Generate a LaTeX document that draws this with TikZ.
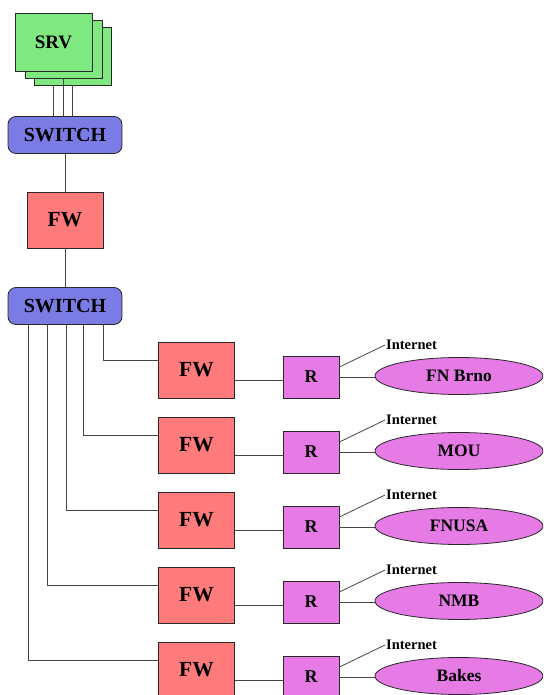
\documentclass[tikz,border=0pt]{standalone}
\usepackage{fontspec}
\setmainfont{Liberation Serif}
\usetikzlibrary{shapes.geometric}
\definecolor{srvgreen}{RGB}{128,232,128}
\definecolor{swblue}{RGB}{123,123,230}
\definecolor{fwred}{RGB}{255,123,123}
\definecolor{rviolet}{RGB}{230,123,230}
\definecolor{edge}{RGB}{40,40,40}
\definecolor{wirec}{RGB}{70,70,70}
\begin{document}
\begin{tikzpicture}[x=1pt,y=-1pt,
  box/.style={draw=edge, line width=0.8pt, inner sep=0pt},
  srvbox/.style={box, fill=srvgreen, minimum width=77pt, minimum height=58pt, font=\bfseries\fontsize{19}{20}\selectfont},
  switchbox/.style={box, fill=swblue, rounded corners=8pt, minimum width=114pt, minimum height=37pt, font=\bfseries\fontsize{20}{22}\selectfont},
  fwbox/.style={box, fill=fwred, minimum width=76pt, minimum height=56pt, font=\bfseries\fontsize{21.5}{24}\selectfont},
  rbox/.style={box, fill=rviolet, minimum width=56pt, minimum height=42pt, font=\bfseries\fontsize{18}{20}\selectfont},
  site/.style={box, ellipse, fill=rviolet, minimum width=168pt, minimum height=37pt, font=\bfseries\fontsize{17.5}{19}\selectfont},
  wire/.style={draw=wirec, line width=0.8pt},
  netlabel/.style={inner sep=1pt, anchor=west, font=\bfseries\fontsize{14.5}{16}\selectfont}
]
\useasboundingbox (0,0) rectangle (543,695);
\clip (0,0) rectangle (543,695);
\fill[white] (0,0) rectangle (543,695);
% server stack
\node[srvbox] (s3) at (72.5,56) {};
\node[srvbox] (s2) at (63.5,49) {};
\node[srvbox] (s1) at (53.5,42) {SRV};
\node[switchbox] (sw1) at (65,135) {SWITCH};
\draw[wire] (s1.south |- s3.south) -- (s1.south |- sw1.north);
\draw[wire] (s2.south) -- (s2.south |- sw1.north);
\draw[wire] (s3.south) -- (s3.south |- sw1.north);
% first firewall and second switch
\node[fwbox] (fw0) at (65,220) {FW};
\node[switchbox] (sw2) at (65,306) {SWITCH};
\draw[wire] (sw1.south) -- (fw0.north);
\draw[wire] (fw0.south) -- (sw2.north);
% rows
\foreach \i/\xx/\name in {0/103/FN Brno,1/83/MOU,2/66/FNUSA,3/47/NMB,4/28/Bakes}{
  \pgfmathsetmacro\yy{75*\i}
  \node[fwbox] (fw\i r) at (196.5,{370+\yy}) {FW};
  \node[rbox] (r\i) at (311,{377+\yy}) {R};
  \node[site] (e\i) at (459,{376+\yy}) {\name};
  \node[netlabel] (net\i) at (385,{345+\yy}) {Internet};
  \coordinate (t\i) at (\xx,{360+\yy});
  \coordinate (q\i) at (250,{380+\yy});
  \draw[wire] (sw2.south -| t\i) |- (fw\i r.west |- t\i);
  \draw[wire] (fw\i r.east |- q\i) -- (r\i.west |- q\i);
  \draw[wire] (r\i.east) -- (r\i.east -| e\i.west);
  \draw[wire] ([yshift=10pt]r\i.east) -- (net\i.west);
}
\end{tikzpicture}
\end{document}
